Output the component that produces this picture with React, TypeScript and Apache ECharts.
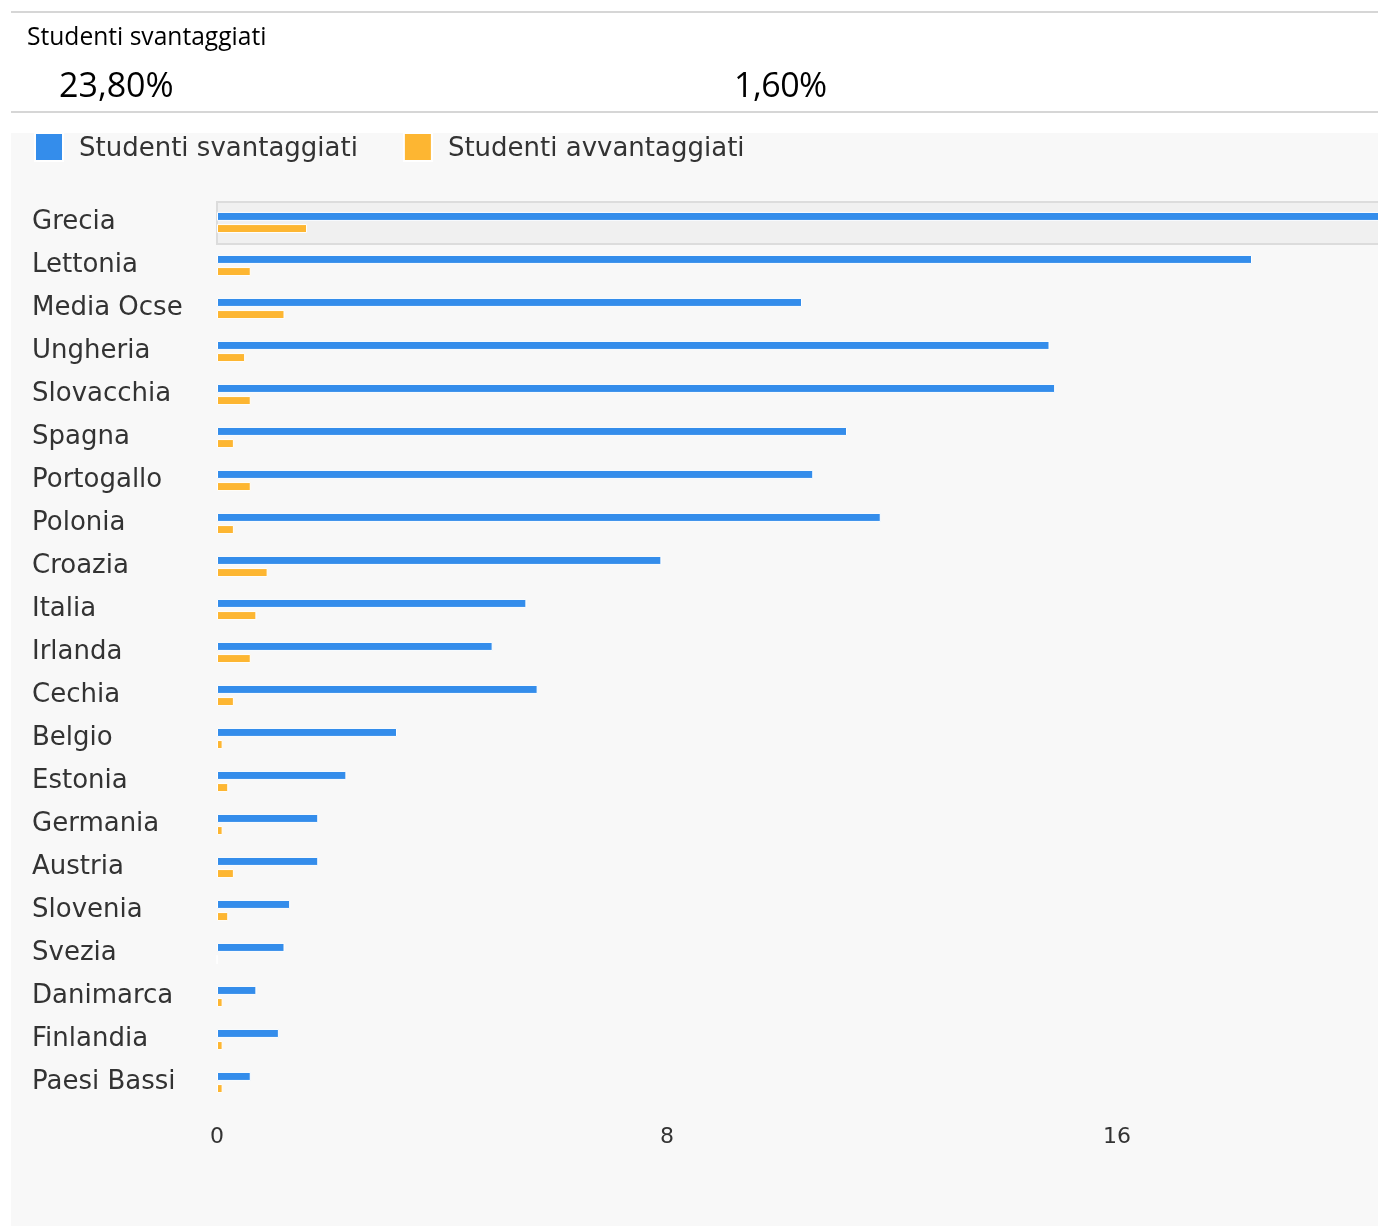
import React, { useEffect, useRef } from "react";
import * as echarts from "echarts";

const categories = [
  "Grecia", "Lettonia", "Media Ocse", "Ungheria", "Slovacchia", "Spagna", "Portogallo",
  "Polonia", "Croazia", "Italia", "Irlanda", "Cechia", "Belgio", "Estonia", "Germania",
  "Austria", "Slovenia", "Svezia", "Danimarca", "Finlandia", "Paesi Bassi",
];
const svantaggiati = [23.8, 18.4, 10.4, 14.8, 14.9, 11.2, 10.6, 11.8, 7.9, 5.5, 4.9, 5.7, 3.2, 2.3, 1.8, 1.8, 1.3, 1.2, 0.7, 1.1, 0.6];
const avvantaggiati = [1.6, 0.6, 1.2, 0.5, 0.6, 0.3, 0.6, 0.3, 0.9, 0.7, 0.6, 0.3, 0.1, 0.2, 0.1, 0.3, 0.2, 0, 0.1, 0.1, 0.1];
const seriesNames = ["Studenti svantaggiati", "Studenti avvantaggiati"];
const headerLabel = "Studenti svantaggiati";
const headerValues = ["23,80%", "1,60%"];
const highlighted = "Grecia";

const BLUE = "#348deb";
const ORANGE = "#fdb632";

export default function App() {
  const ref = useRef<HTMLDivElement>(null);
  useEffect(() => {
    document.documentElement.style.overflow = "hidden";
    document.body.style.overflow = "hidden";
    if (!ref.current) return;
    const chart = echarts.init(ref.current, undefined, { renderer: "svg" });
    const gridLeft = 206;
    const gridTop = 68;
    const gridBottom = 122;
    chart.setOption({
      animation: false,
      backgroundColor: "#f8f8f8",
      textStyle: { fontFamily: "DejaVu Sans" },
      legend: {
        left: 18,
        top: -6,
        itemWidth: 28,
        itemHeight: 28,
        itemGap: 45,
        icon: "rect",
        data: seriesNames,
        formatter: "{t|{name}}",
        textStyle: {
          fontSize: 26,
          color: "#333",
          fontFamily: "DejaVu Sans",
          rich: { t: { fontSize: 26, color: "#333", fontFamily: "DejaVu Sans", padding: [0, 0, 0, 11] } },
        },
      },
      grid: { left: gridLeft, top: gridTop, bottom: gridBottom, right: 44, containLabel: false },
      xAxis: {
        type: "value",
        min: 0,
        max: 24,
        interval: 8,
        axisLine: { show: false },
        axisTick: { show: false },
        splitLine: { show: false },
        axisLabel: { fontSize: 22, color: "#333", margin: 20, fontFamily: "DejaVu Sans", showMaxLabel: false },
      },
      yAxis: {
        type: "category",
        data: categories,
        inverse: true,
        axisLine: { show: false },
        axisTick: { show: false },
        axisLabel: {
          align: "left",
          margin: 185,
          formatter: "{l|{value}}",
          rich: { l: { fontSize: 26, color: "#333", fontFamily: "DejaVu Sans", padding: [0, 0, 6, 0] } },
        },
      },
      series: [
        {
          name: seriesNames[0],
          type: "bar",
          data: svantaggiati,
          barWidth: 9,
          barGap: "35%",
          itemStyle: { color: BLUE, borderColor: "#fff", borderWidth: 1 },
          z: 3,
        },
        {
          name: seriesNames[1],
          type: "bar",
          data: avvantaggiati,
          barWidth: 9,
          barGap: "35%",
          itemStyle: { color: ORANGE, borderColor: "#fff", borderWidth: 1 },
          z: 3,
        },
      ],
    });
    const h = ref.current.clientHeight;
    const band = (h - gridTop - gridBottom) / categories.length;
    const cy = chart.convertToPixel({ yAxisIndex: 0 }, highlighted) as number;
    chart.setOption({
      graphic: [
        {
          type: "rect",
          z: 1,
          silent: true,
          shape: { x: gridLeft, y: cy - band / 2 + 1, width: 2000, height: band - 1 },
          style: { fill: "#f0f0f0", stroke: "#dcdcdc", lineWidth: 2 },
        },
      ],
    });
    return () => chart.dispose();
  }, []);

  return (
    <div style={{ position: "fixed", left: 11, top: 11, width: 1367, height: 1215, overflow: "hidden", fontFamily: "'Open Sans', sans-serif", color: "#000" }}>
      <div style={{ position: "relative", height: 98, borderTop: "2px solid #d6d6d6", borderBottom: "2px solid #d6d6d6" }}>
        <div style={{ position: "absolute", left: 16, top: 7, fontSize: 24.6, lineHeight: "32px" }}>{headerLabel}</div>
        <div style={{ position: "absolute", left: 48, top: 48, fontSize: 34, lineHeight: "46px" }}>{headerValues[0]}</div>
        <div style={{ position: "absolute", left: 723, top: 48, fontSize: 34, lineHeight: "46px", letterSpacing: -0.5 }}>{headerValues[1]}</div>
      </div>
      <div style={{ height: 20 }} />
      <div ref={ref} style={{ width: 1600, height: 1093 }} />
    </div>
  );
}
